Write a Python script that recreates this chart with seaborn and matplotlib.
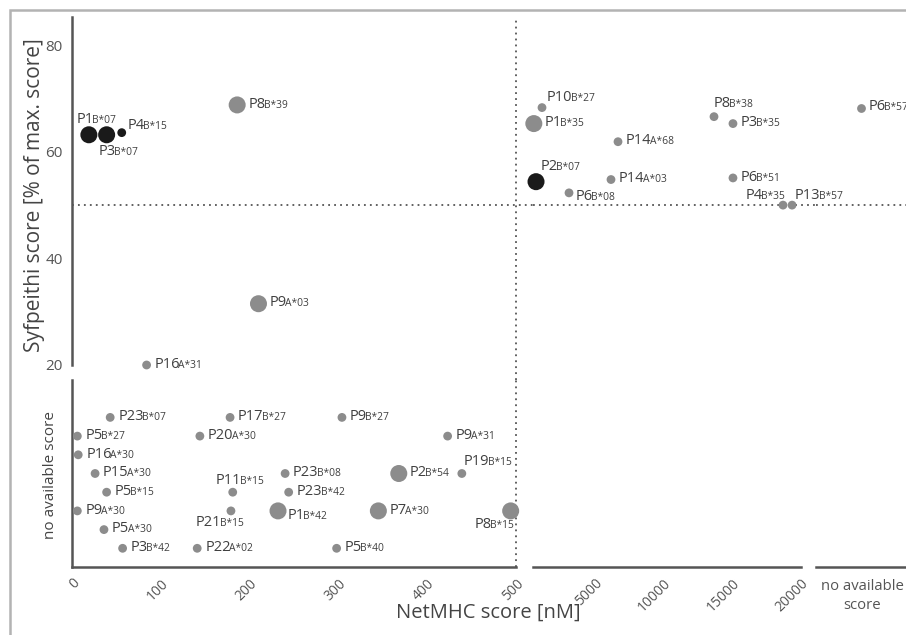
import numpy as np
import pandas as pd
import matplotlib.pyplot as plt
import seaborn as sns
from matplotlib.patches import Rectangle
from matplotlib.offsetbox import TextArea, HPacker, AnnotationBbox

sns.set_theme(style='white')
plt.rcParams['font.family'] = ['Open Sans', 'DejaVu Sans']

# peptides with NetMHC <= 500 nM and a Syfpeithi score
low_pep = ['P1', 'P3', 'P4', 'P8', 'P9', 'P16']
low_hla = ['B*07', 'B*07', 'B*15', 'B*39', 'A*03', 'A*31']
low_nm = [19, 39, 56, 186, 210, 84]
low_syf = [63.2, 63.2, 63.6, 68.8, 31.5, 20.0]
low_kind = ['black', 'black', 'black', 'grey', 'grey', 'grey']
low_big = ['big', 'big', 'small', 'big', 'big', 'small']

# peptides with NetMHC > 500 nM
high_pep = ['P10', 'P1', 'P14', 'P2', 'P14', 'P6', 'P8', 'P3', 'P6', 'P4', 'P13']
high_hla = ['B*27', 'B*35', 'A*68', 'B*07', 'A*03', 'B*08', 'B*38', 'B*35', 'B*51', 'B*35', 'B*57']
high_nm = [1155, 560, 6685, 720, 6175, 3120, 13670, 15050, 15050, 18690, 19350]
high_syf = [68.3, 65.3, 61.9, 54.4, 54.8, 52.3, 66.6, 65.3, 55.1, 50.0, 50.0]
high_kind = ['grey', 'grey', 'grey', 'black', 'grey', 'grey', 'grey', 'grey', 'grey', 'grey', 'grey']
high_big = ['small', 'big', 'small', 'big', 'small', 'small', 'small', 'small', 'small', 'small', 'small']

# no NetMHC score
nonm_pep = ['P6']
nonm_hla = ['B*57']
nonm_syf = [68.3]

# no Syfpeithi score (row = vertical slot in the lower band)
nosyf_pep = ['P23', 'P17', 'P9', 'P5', 'P20', 'P9', 'P16', 'P15', 'P23', 'P2', 'P19', 'P5',
             'P11', 'P23', 'P9', 'P21', 'P1', 'P7', 'P8', 'P5', 'P3', 'P22', 'P5']
nosyf_hla = ['B*07', 'B*27', 'B*27', 'B*27', 'A*30', 'A*31', 'A*30', 'A*30', 'B*08', 'B*54', 'B*15', 'B*15',
             'B*15', 'B*42', 'A*30', 'B*15', 'B*42', 'A*30', 'B*15', 'A*30', 'B*42', 'A*02', 'B*40']
nosyf_nm = [43, 178, 304, 6, 144, 423, 7, 26, 240, 368, 439, 39,
            181, 244, 6, 179, 232, 345, 494, 36, 57, 141, 298]
nosyf_row = [8, 8, 8, 7, 7, 7, 6, 5, 5, 5, 5, 4, 4, 4, 3, 3, 3, 3, 3, 2, 1, 1, 1]
nosyf_big = ['small'] * 9 + ['big'] + ['small'] * 6 + ['big', 'big', 'big'] + ['small'] * 4

# label placement (pixels from the point)
offsets = {
    ('P1', 'B*07'): (7, 15, 'center'), ('P3', 'B*07'): (-8, -17, 'left'),
    ('P4', 'B*15'): (6, 6, 'left'), ('P10', 'B*27'): (5, 9, 'left'),
    ('P2', 'B*07'): (5, 14, 'left'), ('P6', 'B*08'): (7, -4, 'left'),
    ('P8', 'B*38'): (0, 12, 'left'), ('P4', 'B*35'): (2, 9, 'right'),
    ('P13', 'B*57'): (3, 9, 'left'), ('P11', 'B*15'): (7, 11, 'center'),
    ('P21', 'B*15'): (-11, -12, 'center'), ('P1', 'B*42'): (10, -5, 'left'),
    ('P19', 'B*15'): (26, 11, 'center'), ('P8', 'B*15'): (3, -14, 'right'),
}

pal = {'black': '#1a1a1a', 'grey': '#8c8c8c'}
sizes = {'big': 150, 'small': 40}
txt_col = '#404040'
ax_col = '#555555'
ha_frac = {'left': 0.0, 'center': 0.5, 'right': 1.0}


def draw(ax, df):
    sns.scatterplot(data=df, x='x', y='y', hue='kind', palette=pal, size='big', sizes=sizes,
                    legend=False, linewidth=0, ax=ax, clip_on=False, zorder=3)
    for _, r in df.iterrows():
        dx, dy, ha = offsets.get((r.pep, r.hla), (11 if r.big == 'big' else 8, 0, 'left'))
        main = TextArea(r.pep, textprops=dict(fontsize=10.5, color=txt_col))
        sub = TextArea(r.hla, textprops=dict(fontsize=7.4, color=txt_col))
        pack = HPacker(children=[main, sub], align='baseline', pad=0, sep=-1.2)
        ab = AnnotationBbox(pack, (r.x, r.y), xybox=(dx * 0.72, dy * 0.72), boxcoords='offset points',
                            box_alignment=(ha_frac[ha], 0.45), frameon=False, pad=0,
                            annotation_clip=False)
        ax.add_artist(ab)
    ax.set_xlabel('')
    ax.set_ylabel('')


fig = plt.figure(figsize=(9.06, 6.35), dpi=100)
W, H = 906, 635


def box(x0, x1, y0, y1):
    return [x0 / W, 1 - y1 / H, (x1 - x0) / W, (y1 - y0) / H]


ax_tl = fig.add_axes(box(72, 516, 17, 365))
ax_tm = fig.add_axes(box(533, 801, 17, 365))
ax_tr = fig.add_axes(box(816, 906, 17, 365))
ax_bl = fig.add_axes(box(72, 516, 380, 567))
ax_bm = fig.add_axes(box(533, 801, 380, 567))
ax_br = fig.add_axes(box(816, 906, 380, 567))
axes = [ax_tl, ax_tm, ax_tr, ax_bl, ax_bm, ax_br]

for ax in axes:
    ax.set_facecolor('none')
    for s in ax.spines.values():
        s.set_visible(False)
        s.set_color(ax_col)
        s.set_linewidth(1.8)
    ax.tick_params(colors=ax_col, width=1.8, length=5.5, labelsize=10, labelcolor='#555555')

df_low = pd.DataFrame({'pep': low_pep, 'hla': low_hla, 'x': low_nm, 'y': low_syf,
                       'kind': low_kind, 'big': low_big})
df_high = pd.DataFrame({'pep': high_pep, 'hla': high_hla, 'x': high_nm, 'y': high_syf,
                        'kind': high_kind, 'big': high_big})
df_nonm = pd.DataFrame({'pep': nonm_pep, 'hla': nonm_hla, 'x': [0.5] * len(nonm_pep), 'y': nonm_syf,
                        'kind': 'grey', 'big': 'small'})
df_nosyf = pd.DataFrame({'pep': nosyf_pep, 'hla': nosyf_hla, 'x': nosyf_nm, 'y': nosyf_row,
                         'kind': 'grey', 'big': nosyf_big})

draw(ax_tl, df_low)
draw(ax_tm, df_high)
draw(ax_tr, df_nonm)
draw(ax_bl, df_nosyf)

for ax in [ax_tl, ax_tm, ax_tr]:
    ax.set_ylim(20, 85.3)
for ax in [ax_bl, ax_bm, ax_br]:
    ax.set_ylim(0, 10)
for ax in [ax_tl, ax_bl]:
    ax.set_xlim(0, 500)
for ax in [ax_tm, ax_bm]:
    ax.set_xlim(500, 20000)
for ax in [ax_tr, ax_br]:
    ax.set_xlim(0, 1)

# y axis (upper part)
ax_tl.spines['left'].set_visible(True)
ax_tl.set_yticks([20, 40, 60, 80])
ax_tl.set_xticks([])
ax_tl.tick_params(axis='y', labelsize=11, pad=1)
ax_bl.spines['left'].set_visible(True)

for ax in [ax_tm, ax_tr, ax_bl, ax_bm, ax_br]:
    ax.set_yticks([])
for ax in [ax_tm, ax_tr]:
    ax.set_xticks([])

# x axis segments
for ax in [ax_bl, ax_bm, ax_br]:
    ax.spines['bottom'].set_visible(True)
ax_bl.set_xticks([0, 100, 200, 300, 400, 500])
ax_bl.set_xticks([500], minor=True)
ax_bm.set_xticks([5000, 10000, 15000, 20000])
ax_bm.set_xticks([500, 20000], minor=True)
ax_br.set_xticks([])
for ax in [ax_bl, ax_bm]:
    ax.tick_params(axis='x', which='minor', direction='inout', length=8.6, width=1.8, color=ax_col)
    ax.tick_params(axis='x', which='major', pad=1)
    plt.setp(ax.get_xticklabels(), rotation=45, ha='right', rotation_mode='anchor')

# threshold lines
dot = dict(color='#555555', lw=1.3, ls=(0, (1, 2.3)), clip_on=False, zorder=1)
ax_tl.axhline(50, 0, (533 - 72) / 444, **dot)
ax_tm.axhline(50, 0, (816 - 533) / 268, **dot)
ax_tr.axhline(50, 0, 1, **dot)
ax_tl.axvline(500, -(380 - 365) / 348, 1, **dot)
ax_bl.axvline(500, 0, 1, **dot)

fig.text(35 / W, 1 - 195 / H, 'Syfpeithi score [% of max. score]', rotation=90,
         ha='center', va='center', fontsize=15, color='#444444')
fig.text(50 / W, 1 - 475 / H, 'no available score', rotation=90,
         ha='center', va='center', fontsize=11, color='#444444')
fig.text(488 / W, 1 - 613 / H, 'NetMHC score [nM]', ha='center', va='center',
         fontsize=14.5, color='#444444')
fig.text(862 / W, 1 - 596 / H, 'no available\nscore', ha='center', va='center',
         fontsize=10.7, color='#555555', linespacing=1.3)

fig.add_artist(Rectangle((10 / W, -0.5), 2, 0.5 + 1 - 10 / H, transform=fig.transFigure,
                         fill=False, ec='#b3b3b3', lw=1.8))

fig.savefig('out.png', dpi=100)
